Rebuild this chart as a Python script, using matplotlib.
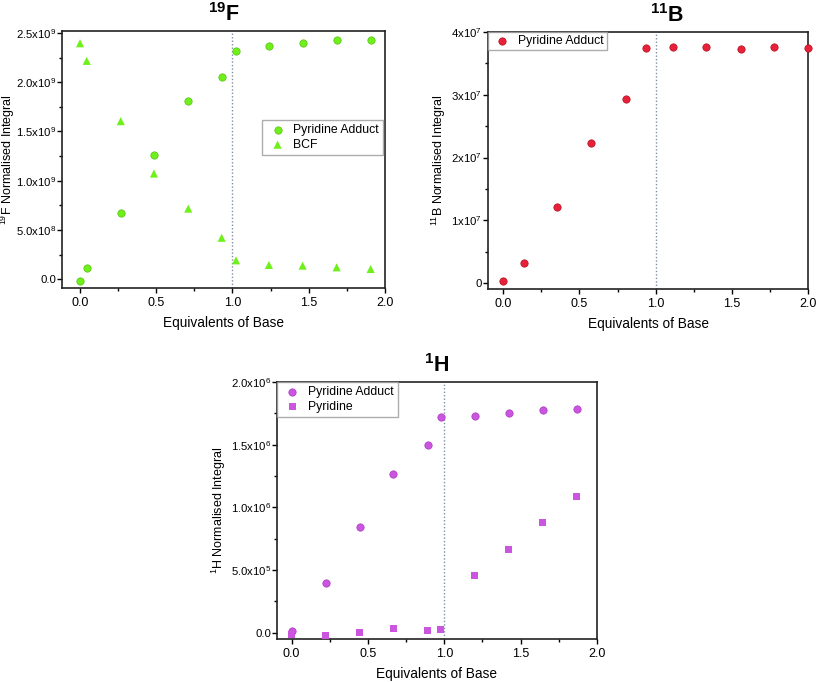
import matplotlib
matplotlib.use("Agg")
import matplotlib.pyplot as plt
from matplotlib.ticker import FuncFormatter, MultipleLocator, AutoMinorLocator

plt.rcParams["font.family"] = ["Liberation Sans", "DejaVu Sans"]
plt.rcParams["font.size"] = 9
plt.rcParams["mathtext.fontset"] = "custom"
plt.rcParams["mathtext.rm"] = "Liberation Sans"
plt.rcParams["mathtext.bf"] = "Liberation Sans:bold"

# 19F data
f_x_adduct = [0.0, 0.044, 0.269, 0.485, 0.710, 0.929, 1.023, 1.239, 1.460, 1.683, 1.906]
f_y_adduct = [-0.013, 0.118, 0.673, 1.262, 1.810, 2.056, 2.315, 2.369, 2.402, 2.426, 2.430]
f_x_bcf = [0.0, 0.044, 0.267, 0.485, 0.710, 0.929, 1.023, 1.239, 1.460, 1.683, 1.906]
f_y_bcf = [2.396, 2.217, 1.605, 1.073, 0.717, 0.421, 0.192, 0.145, 0.138, 0.121, 0.104]

# 11B data
b_x_adduct = [0.0, 0.134, 0.355, 0.579, 0.803, 0.934, 1.112, 1.333, 1.557, 1.779, 2.0]
b_y_adduct = [0.027, 0.320, 1.214, 2.232, 2.929, 3.739, 3.760, 3.766, 3.734, 3.760, 3.750]

# 1H data
h_x = [0.0, 0.224, 0.445, 0.667, 0.890, 0.978, 1.200, 1.423, 1.645, 1.868]
h_y_adduct = [0.011, 0.394, 0.840, 1.266, 1.495, 1.723, 1.726, 1.753, 1.779, 1.787]
h_y_pyridine = [-0.011, -0.021, 0.005, 0.032, 0.019, 0.027, 0.455, 0.662, 0.883, 1.085]

green = "#6FF01A"
red = "#E8203A"
magenta = "#CC55E0"

fig = plt.figure(figsize=(8.17, 6.82), dpi=100)
ax1 = fig.add_axes([0.0759, 0.5777, 0.3953, 0.3768])
ax2 = fig.add_axes([0.5973, 0.5762, 0.3917, 0.3768])
ax3 = fig.add_axes([0.3390, 0.0630, 0.3917, 0.3769])


def sci_label(mant, exp):
    return r"%sx10$^{%d}$" % (mant, exp)


def sci_fmt(exp, decimals):
    # values are in units of 10**exp; values below 1 are shown one power lower
    def f(v, pos):
        if abs(v) < 1e-9:
            return "0.0" if decimals else "0"
        if not decimals:
            return sci_label("%d" % round(v), exp)
        if v < 1:
            return sci_label("%.1f" % (v * 10), exp - 1)
        return sci_label("%.1f" % v, exp)
    return FuncFormatter(f)


def style(ax, ymaj, exp, decimals, ylabel, ylab_x):
    ax.xaxis.set_major_locator(MultipleLocator(0.5))
    ax.xaxis.set_minor_locator(MultipleLocator(0.25))
    ax.yaxis.set_major_locator(MultipleLocator(ymaj))
    ax.yaxis.set_minor_locator(AutoMinorLocator(2))
    ax.xaxis.set_major_formatter(FuncFormatter(lambda v, p: "%.1f" % v))
    ax.yaxis.set_major_formatter(sci_fmt(exp, decimals))
    ax.tick_params(which="major", direction="out", length=3.5, width=1, pad=0.8)
    ax.tick_params(axis="x", labelsize=9, pad=3)
    ax.tick_params(axis="y", labelsize=8.2)
    ax.tick_params(which="minor", direction="out", length=2.5, width=1)
    ax.tick_params(top=False, right=False)
    for s in ax.spines.values():
        s.set_linewidth(1.2)
        s.set_color("#222222")
    ax.set_xlabel("Equivalents of Base", fontsize=9.8, labelpad=5)
    ax.set_ylabel(ylabel, fontsize=9)
    ax.yaxis.set_label_coords(ylab_x, 0.5)
    ax.axvline(1.0, color="#8090a0", lw=1, ls=(0, (1, 1.5)), zorder=1)


leg_kw = dict(frameon=True, fancybox=False, edgecolor="#999999", fontsize=8.8,
              handletextpad=0.4, handlelength=1.8, borderaxespad=0, labelspacing=0.2)

# 19F
ax1.scatter(f_x_adduct, f_y_adduct, s=28, marker="o", color=green, edgecolor="#55c010", lw=0.5, label="Pyridine Adduct", zorder=3)
ax1.scatter(f_x_bcf, f_y_bcf, s=34, marker="^", color=green, edgecolor="none", label="BCF", zorder=3)
ax1.set_xlim(-0.118, 2.0)
ax1.set_ylim(-0.089, 2.52)
style(ax1, 0.5, 9, True, r"$^{19}$F Normalised Integral", -0.139)
ax1.set_title(r"$\mathbf{^{19}F}$", fontsize=15.5, pad=7)
ax1.legend(loc="center right", bbox_to_anchor=(0.995, 0.585), borderpad=0.35, **leg_kw)

# 11B
ax2.scatter(b_x_adduct, b_y_adduct, s=28, marker="o", color=red, edgecolor="#b01020", lw=0.5, label="Pyridine Adduct", zorder=3, clip_on=False)
ax2.set_xlim(-0.1, 2.0)
ax2.set_ylim(-0.096, 4.0)
style(ax2, 1.0, 7, False, r"$^{11}$B Normalised Integral", -0.125)
ax2.set_title(r"$\mathbf{^{11}B}$", fontsize=15.5, pad=7, x=0.56)
ax2.legend(loc="upper left", bbox_to_anchor=(0.0, 1.0), borderpad=0.25, **leg_kw)

# 1H
ax3.scatter(h_x, h_y_adduct, s=28, marker="o", color=magenta, edgecolor="#a838c0", lw=0.5, label="Pyridine Adduct", zorder=3)
ax3.scatter(h_x, h_y_pyridine, s=26, marker="s", color=magenta, edgecolor="none", label="Pyridine", zorder=3)
ax3.set_xlim(-0.096, 2.0)
ax3.set_ylim(-0.05, 2.0)
style(ax3, 0.5, 6, True, r"$^{1}$H Normalised Integral", -0.153)
ax3.set_title(r"$\mathbf{^{1}H}$", fontsize=15.5, pad=7)
ax3.legend(loc="upper left", bbox_to_anchor=(0.0, 1.0), borderpad=0.35, **leg_kw)

fig.savefig("out.png", dpi=100)
